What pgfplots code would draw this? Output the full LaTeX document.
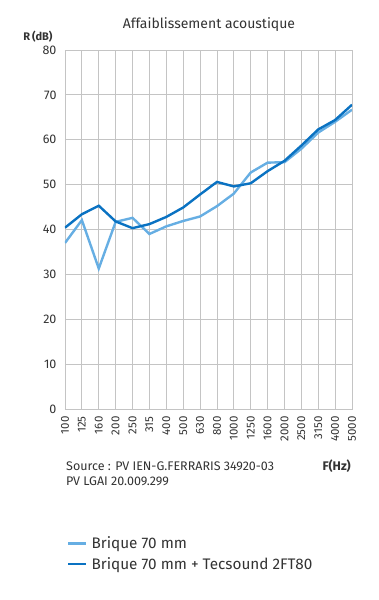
\documentclass[border=0pt]{standalone}
\usepackage{pgfplots}
\pgfplotsset{compat=1.18}
\usepackage{fontspec}
\setmainfont{Fira Sans}
\definecolor{txt}{HTML}{333333}
\definecolor{lightb}{HTML}{66AEE3}
\definecolor{darkb}{HTML}{0A72C2}
\definecolor{gridc}{HTML}{C4C4C4}
\begin{document}
\begin{tikzpicture}[x=1pt,y=1pt,font=\color{txt}]
\path[use as bounding box] (0pt,0pt) rectangle (378pt,600pt);
\begin{axis}[
  at={(65pt,191pt)}, anchor=south west,
  scale only axis, width=287pt, height=359pt,
  xmin=0, xmax=17, ymin=0, ymax=80,
  xtick={0,...,17},
  xticklabels={100,125,160,200,250,315,400,500,630,800,1000,1250,1600,2000,2500,3150,4000,5000},
  ytick={0,10,...,80},
  grid=major,
  major grid style={gridc, line width=0.8pt},
  axis line style={gridc, line width=0.8pt},
  major tick length=0pt,
  tick style={draw=none},
  xticklabel style={rotate=90, anchor=east, font=\fontsize{11.5}{13}\selectfont\color{txt}, xshift=-4pt},
  yticklabel style={font=\fontsize{12.5}{14}\selectfont\color{txt}, xshift=-5pt},
  /pgf/number format/assume math mode=true,
  legend style={at={(0.007,-0.355)}, anchor=north west, draw=none, fill=none,
     font=\fontsize{15.3}{17}\selectfont\color{txt}, row sep=7pt, inner sep=0pt,
     nodes={inner xsep=4pt, inner ysep=0pt}},
  legend cell align=left,
  legend image code/.code={\draw[#1, line width=2.4pt] (0pt,0pt) -- (18pt,0pt);},
]
\addplot[lightb, line width=2.4pt] coordinates {
(0,37.0) (1,42.1) (2,31.3) (3,41.7) (4,42.6) (5,39.0) (6,40.7) (7,41.9) (8,42.9) (9,45.2)
(10,48.0) (11,52.7) (12,54.9) (13,55.0) (14,58.0) (15,61.6) (16,64.0) (17,66.7)};
\addlegendentry{Brique 70 mm}
\addplot[darkb, line width=2.4pt] coordinates {
(0,40.4) (1,43.4) (2,45.3) (3,41.8) (4,40.3) (5,41.2) (6,42.8) (7,44.9) (8,47.8) (9,50.6)
(10,49.6) (11,50.3) (12,53.0) (13,55.3) (14,58.7) (15,62.3) (16,64.4) (17,67.8)};
\addlegendentry{Brique 70 mm + Tecsound 2FT80}
\end{axis}
\node[font=\fontsize{14}{16}\selectfont\color{txt}] at (209pt,575pt) {Affaiblissement acoustique};
\node[font=\bfseries\fontsize{11}{13}\selectfont\color{txt}] at (38pt,563pt) {R\,(dB)};
\node[anchor=west, inner sep=0pt, font=\fontsize{12.5}{14}\selectfont\color{txt}] at (66pt,134pt) {Source : PV IEN-G.FERRARIS 34920-03};
\node[anchor=west, inner sep=0pt, font=\fontsize{12.5}{14}\selectfont\color{txt}] at (66pt,119pt) {PV LGAI 20.009.299};
\node[anchor=east, inner sep=0pt, font=\bfseries\fontsize{12.5}{14}\selectfont\color{txt}] at (351pt,134pt) {F(Hz)};
\end{tikzpicture}
\end{document}
